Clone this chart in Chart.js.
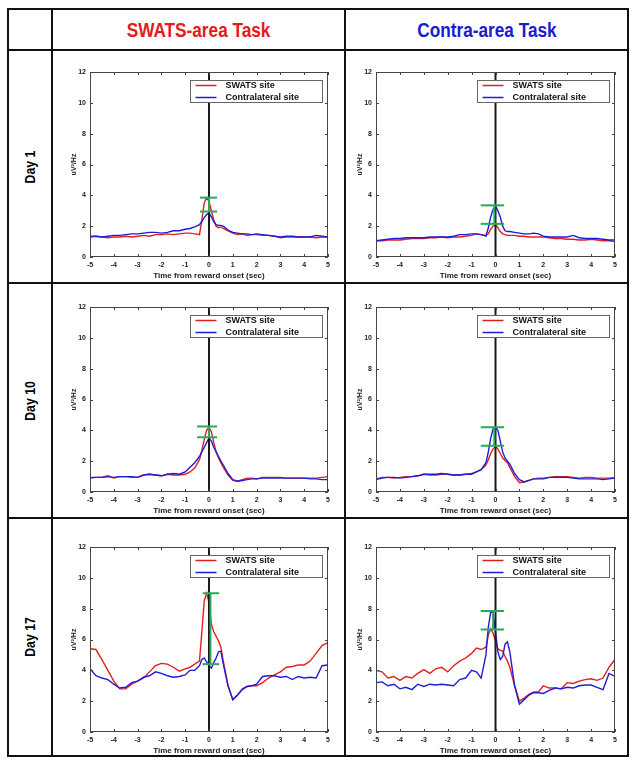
<!DOCTYPE html>
<html>
<head>
<meta charset="utf-8">
<script src="https://cdn.jsdelivr.net/npm/chart.js@4.4.1/dist/chart.umd.min.js"></script>
<style>
body{margin:0;background:#fff;}
#wrap{position:relative;width:638px;height:768px;overflow:hidden;}
.ln{position:absolute;background:#111;}
.hd{position:absolute;text-align:center;font:bold 20px "Liberation Sans",Arial,sans-serif;}
.hd span{display:inline-block;transform:scaleX(0.86);}
.day{position:absolute;width:120px;height:20px;line-height:20px;text-align:center;font:bold 15px "Liberation Sans",Arial,sans-serif;transform:rotate(-90deg) scaleX(0.82);}
canvas{position:absolute;}
</style>
</head>
<body>
<div id="wrap"></div>
<script>
// time axis (sec from reward onset)
var times = [-5,-4.75,-4.5,-4.25,-4,-3.75,-3.5,-3.25,-3,-2.75,-2.5,-2.25,-2,-1.75,-1.5,-1.25,-1,-0.8,-0.6,-0.4,-0.3,-0.2,-0.1,0,0.1,0.2,0.3,0.4,0.5,0.6,0.8,1,1.2,1.4,1.6,1.8,2,2.25,2.5,2.75,3,3.25,3.5,3.75,4,4.25,4.5,4.75,5];

var columnTitles = ["SWATS-area Task", "Contra-area Task"];
var rowTitles = ["Day 1", "Day 10", "Day 17"];
var seriesNames = ["SWATS site", "Contralateral site"];
var xTicks = [-5,-4,-3,-2,-1,0,1,2,3,4,5];
var yTicks = [0,2,4,6,8,10,12];

// Day 1
var day1SwatsTask_swats = [1.35,1.35,1.3,1.25,1.3,1.3,1.35,1.3,1.35,1.4,1.35,1.45,1.45,1.5,1.45,1.5,1.55,1.55,1.5,1.45,2.4,3.5,3.85,3.6,3.0,2.4,2.0,1.9,1.95,1.85,1.7,1.55,1.45,1.5,1.4,1.45,1.45,1.4,1.4,1.35,1.25,1.3,1.3,1.3,1.3,1.3,1.25,1.3,1.3];
var day1SwatsTask_contra = [1.3,1.35,1.3,1.35,1.4,1.4,1.45,1.5,1.5,1.55,1.6,1.6,1.55,1.6,1.7,1.7,1.8,1.85,1.95,2.1,2.3,2.55,2.75,2.85,2.6,2.3,2.1,2.05,2.05,2.0,1.75,1.6,1.55,1.5,1.5,1.45,1.5,1.45,1.4,1.35,1.3,1.35,1.35,1.3,1.3,1.3,1.4,1.35,1.3];
var day1ContraTask_swats = [1.05,1.05,1.1,1.1,1.1,1.15,1.2,1.2,1.2,1.25,1.25,1.3,1.25,1.3,1.3,1.35,1.4,1.5,1.45,1.4,1.5,1.8,2.0,2.1,1.9,1.65,1.5,1.45,1.4,1.4,1.4,1.35,1.35,1.3,1.3,1.3,1.3,1.25,1.2,1.2,1.15,1.15,1.1,1.1,1.15,1.1,1.05,1.05,1.0];
var day1ContraTask_contra = [1.05,1.1,1.15,1.2,1.2,1.25,1.25,1.25,1.25,1.3,1.3,1.3,1.3,1.35,1.45,1.45,1.5,1.5,1.45,1.35,1.9,2.6,3.1,3.3,3.0,2.6,2.0,1.7,1.65,1.65,1.6,1.55,1.5,1.5,1.55,1.5,1.35,1.3,1.3,1.3,1.3,1.4,1.25,1.2,1.2,1.2,1.15,1.1,1.1];

// Day 10
var day10SwatsTask_swats = [0.95,0.95,0.95,1.05,0.9,1.0,1.0,0.95,0.95,1.1,1.15,1.1,1.05,1.15,1.1,1.1,1.15,1.3,1.55,2.1,2.7,3.4,4.0,4.2,3.9,3.2,2.6,2.2,1.9,1.6,1.1,0.75,0.7,0.8,0.9,0.9,0.85,0.95,0.95,0.95,0.95,0.9,0.9,0.9,0.9,0.9,0.9,0.95,1.0];
var day10SwatsTask_contra = [0.9,0.95,0.95,1.0,0.95,1.0,1.0,1.0,0.95,1.1,1.15,1.1,1.05,1.15,1.2,1.15,1.3,1.6,1.9,2.3,2.6,2.9,3.2,3.5,3.3,2.9,2.6,2.3,2.0,1.75,1.2,0.8,0.7,0.75,0.8,0.85,0.85,0.9,0.9,0.9,0.9,0.9,0.9,0.9,0.9,0.85,0.85,0.8,0.8];
var day10ContraTask_swats = [0.85,0.95,0.95,0.9,0.95,1.0,1.0,1.05,1.15,1.1,1.1,1.15,1.15,1.1,1.1,1.15,1.2,1.3,1.45,1.75,2.1,2.5,2.8,2.95,2.8,2.5,2.2,2.05,1.9,1.6,1.0,0.6,0.65,0.75,0.85,0.9,0.9,0.95,1.0,1.0,1.0,0.95,0.9,0.95,0.95,0.9,0.9,0.9,0.95];
var day10ContraTask_contra = [0.8,0.9,0.95,0.95,0.9,0.95,1.0,1.05,1.15,1.15,1.15,1.2,1.15,1.1,1.1,1.15,1.15,1.3,1.45,1.9,2.6,3.5,4.1,4.2,4.0,3.3,2.6,2.2,2.0,1.8,1.2,0.8,0.65,0.75,0.85,0.85,0.85,0.95,0.95,0.95,0.95,0.9,0.85,0.85,0.85,0.85,0.8,0.85,0.9];

// Day 17
var day17SwatsTask_swats = [5.4,5.35,4.7,4.0,3.3,2.8,2.8,3.1,3.3,3.5,3.9,4.3,4.45,4.4,4.2,3.95,4.1,4.2,4.4,4.6,6.5,8.5,9.0,8.4,7.0,6.5,6.2,5.9,5.5,4.6,3.0,2.1,2.4,2.8,2.95,3.0,3.0,3.2,3.5,3.7,3.9,4.2,4.25,4.35,4.35,4.6,5.1,5.6,5.8];
var day17SwatsTask_contra = [4.1,3.65,3.5,3.4,3.1,2.85,2.9,3.2,3.3,3.55,3.65,3.9,3.8,3.65,3.55,3.6,3.7,4.0,4.0,4.3,4.7,4.8,4.55,4.3,4.15,4.5,4.8,5.2,5.25,4.4,3.0,2.1,2.4,2.75,2.95,3.0,3.1,3.6,3.65,3.65,3.55,3.6,3.4,3.6,3.5,3.55,3.5,4.3,4.35];
var day17ContraTask_swats = [4.0,3.9,3.5,3.6,3.35,3.6,3.5,3.8,4.05,3.8,4.1,4.2,3.9,4.3,4.6,4.8,5.1,5.45,5.35,5.5,6.3,6.7,6.4,5.9,5.4,5.3,5.25,4.9,4.6,4.2,3.0,2.0,2.2,2.45,2.6,2.6,3.0,2.85,2.85,2.8,3.2,3.15,3.3,3.4,3.45,3.35,3.5,4.2,4.7];
var day17ContraTask_contra = [3.2,3.25,3.0,3.1,2.8,2.9,2.75,3.1,2.95,3.1,3.05,3.1,3.05,3.0,3.4,3.5,4.0,3.9,3.5,5.0,6.8,7.8,7.7,6.5,5.2,4.7,4.9,5.7,5.85,5.2,3.0,1.8,2.1,2.4,2.55,2.55,2.5,2.7,2.85,2.8,2.9,2.85,3.0,3.05,3.05,2.9,2.75,3.8,3.6];

// green peak-difference bars, panel order: D1 L, D1 R, D10 L, D10 R, D17 L, D17 R
var peakLow  = [2.95, 2.15, 3.55, 3.0, 4.4, 6.65];
var peakHigh = [3.85, 3.35, 4.25, 4.2, 9.0, 7.85];
var peakX    = [0, -0.05, 0, -0.05, 0.06, -0.1];
var capFrom  = [-0.38, -0.62, -0.5, -0.62, -0.27, -0.62];
var capTo    = [0.34, 0.36, 0.34, 0.36, 0.43, 0.36];

var panelSeries = [
	[day1SwatsTask_swats, day1SwatsTask_contra], [day1ContraTask_swats, day1ContraTask_contra],
	[day10SwatsTask_swats, day10SwatsTask_contra], [day10ContraTask_swats, day10ContraTask_contra],
	[day17SwatsTask_swats, day17SwatsTask_contra], [day17ContraTask_swats, day17ContraTask_contra]
];

// layout
var rowLines = [9, 50, 283, 518, 756];
var colLines = [8, 52, 345, 628];
var plotTop = [72, 307, 547];
var plotLeft = [90, 376];
var plotWidth = [238, 239];
var plotHeight = 185;
var AXW = 36, AXH = 30, PADT = 10, PADR = 10;

var FONT = '"Liberation Sans", Arial, sans-serif';
Chart.defaults.font.family = FONT;

var wrap = document.getElementById("wrap");

function addDiv(cls, css, html){
	var d = document.createElement("div");
	d.className = cls;
	d.style.cssText = css;
	if (html) d.innerHTML = html;
	wrap.appendChild(d);
	return d;
}

function drawTable(){
	var i;
	for (i = 0; i < rowLines.length; i++) {
		addDiv("ln", "left:" + (colLines[0]-1) + "px;top:" + (rowLines[i]-1) + "px;width:" + (colLines[3]-colLines[0]+2) + "px;height:2px;");
	}
	for (i = 0; i < colLines.length; i++) {
		addDiv("ln", "left:" + (colLines[i]-1) + "px;top:" + (rowLines[0]-1) + "px;width:2px;height:" + (rowLines[4]-rowLines[0]+2) + "px;");
	}
	var hColors = ["#e31b1b", "#1a1ad0"];
	for (i = 0; i < 2; i++) {
		addDiv("hd", "left:" + colLines[i+1] + "px;width:" + (colLines[i+2]-colLines[i+1]) + "px;top:" + (rowLines[0]+1) + "px;height:" + (rowLines[1]-rowLines[0]) + "px;line-height:" + (rowLines[1]-rowLines[0]) + "px;color:" + hColors[i] + ";", "<span>" + columnTitles[i] + "</span>");
	}
	for (i = 0; i < 3; i++) {
		var cy = (rowLines[i+1] + rowLines[i+2]) / 2;
		var cx = (colLines[0] + colLines[1]) / 2 + 1;
		addDiv("day", "left:" + (cx-60) + "px;top:" + (cy-10) + "px;", rowTitles[i]);
	}
}

function pts(vals){
	return times.map(function(t, i){ return {x: t, y: vals[i]}; });
}

// MATLAB style box, inward ticks and legend
var matlabAxes = {
	id: "matlabAxes",
	afterDatasetsDraw: function(chart){
		var ctx = chart.ctx, a = chart.chartArea, sx = chart.scales.x, sy = chart.scales.y;
		ctx.save();
		ctx.strokeStyle = "#444";
		ctx.lineWidth = 1;
		ctx.strokeRect(a.left + 0.5, a.top + 0.5, a.right - a.left - 1, a.bottom - a.top - 1);
		ctx.beginPath();
		sx.ticks.forEach(function(t){
			var p = Math.round(sx.getPixelForValue(t.value)) + 0.5;
			ctx.moveTo(p, a.bottom); ctx.lineTo(p, a.bottom - 3);
			ctx.moveTo(p, a.top); ctx.lineTo(p, a.top + 3);
		});
		sy.ticks.forEach(function(t){
			var p = Math.round(sy.getPixelForValue(t.value)) + 0.5;
			ctx.moveTo(a.left, p); ctx.lineTo(a.left + 3, p);
			ctx.moveTo(a.right, p); ctx.lineTo(a.right - 3, p);
		});
		ctx.stroke();
		ctx.restore();
	},
	afterDraw: function(chart){
		var ctx = chart.ctx, a = chart.chartArea;
		var items = chart.data.datasets.filter(function(d){ return d.legendPos !== undefined; });
		items.sort(function(p, q){ return p.legendPos - q.legendPos; });
		ctx.save();
		ctx.font = "bold 9px " + FONT;
		var tw = 0;
		items.forEach(function(d){ tw = Math.max(tw, ctx.measureText(d.label).width); });
		var w = Math.round(37 + tw + 21), h = 22;
		var x0 = Math.round(a.right - 6 - w) + 0.5, y0 = Math.round(a.top + 8) + 0.5;
		ctx.fillStyle = "#fff";
		ctx.fillRect(x0, y0, w, h);
		ctx.strokeStyle = "#666";
		ctx.lineWidth = 1;
		ctx.strokeRect(x0, y0, w, h);
		items.forEach(function(d, i){
			var y = y0 + 5 + i * 12;
			ctx.strokeStyle = d.borderColor;
			ctx.lineWidth = 1.5;
			ctx.beginPath();
			ctx.moveTo(x0 + 5, y); ctx.lineTo(x0 + 26, y);
			ctx.stroke();
			ctx.fillStyle = "#111";
			ctx.textBaseline = "middle";
			ctx.fillText(d.label, x0 + 35, y + 0.5);
		});
		ctx.restore();
	}
};

function paintPanel(idx){
	var r = Math.floor(idx / 2), c = idx % 2;
	var cv = document.createElement("canvas");
	var W = plotWidth[c] + AXW + PADR, H = plotHeight + PADT + AXH;
	cv.width = W; cv.height = H;
	cv.style.left = (plotLeft[c] - AXW) + "px";
	cv.style.top = (plotTop[r] - PADT) + "px";
	cv.style.width = W + "px"; cv.style.height = H + "px";
	wrap.appendChild(cv);

	var green = "rgb(40,170,90)";
	var config = {
		type: "line",
		data: {
			datasets: [
				{ label: "cap high", data: [{x: capFrom[idx], y: peakHigh[idx]}, {x: capTo[idx], y: peakHigh[idx]}], borderColor: green, borderWidth: 2, order: 0 },
				{ label: "cap low", data: [{x: capFrom[idx], y: peakLow[idx]}, {x: capTo[idx], y: peakLow[idx]}], borderColor: green, borderWidth: 2, order: 0 },
				{ label: "difference", data: [{x: peakX[idx], y: peakLow[idx]}, {x: peakX[idx], y: peakHigh[idx]}], borderColor: green, borderWidth: 2, order: 0 },
				{ label: "onset", data: [{x: 0, y: 0}, {x: 0, y: 12}], borderColor: "#1a1a1a", borderWidth: 2, order: 1 },
				{ label: seriesNames[1], legendPos: 1, data: pts(panelSeries[idx][1]), borderColor: "rgb(30,30,215)", borderWidth: 1.4, order: 2 },
				{ label: seriesNames[0], legendPos: 0, data: pts(panelSeries[idx][0]), borderColor: "rgb(228,30,30)", borderWidth: 1.4, order: 3 }
			]
		},
		options: {
			responsive: false,
			animation: false,
			devicePixelRatio: 1,
			layout: { padding: { left: 0, top: PADT, right: PADR, bottom: 0 } },
			elements: { point: { radius: 0 }, line: { tension: 0, fill: false } },
			plugins: { legend: { display: false }, tooltip: { enabled: false } },
			scales: {
				x: {
					type: "linear", min: -5, max: 5,
					afterBuildTicks: function(s){ s.ticks = xTicks.map(function(v){ return {value: v}; }); },
					afterFit: function(s){ s.height = AXH; },
					grid: { display: false, drawTicks: false },
					border: { display: false },
					ticks: { color: "#222", padding: 4, maxRotation: 0, autoSkip: false, font: { size: 7, weight: "bold" } },
					title: { display: true, text: "Time from reward onset (sec)", color: "#222", font: { size: 8, weight: "bold" }, padding: { top: 0, bottom: 6 } }
				},
				y: {
					type: "linear", min: 0, max: 12,
					afterBuildTicks: function(s){ s.ticks = yTicks.map(function(v){ return {value: v}; }); },
					afterFit: function(s){ s.width = AXW; },
					grid: { display: false, drawTicks: false },
					border: { display: false },
					ticks: { color: "#222", padding: 4, font: { size: 7, weight: "bold" } },
					title: { display: true, text: "uV²/Hz", color: "#222", font: { size: 7, weight: "bold" }, padding: { top: 16, bottom: 0 } }
				}
			}
		},
		plugins: [matlabAxes]
	};
	new Chart(cv.getContext("2d"), config);
}

drawTable();
for (var p = 0; p < 6; p++) {
	paintPanel(p);
}
</script>
</body>
</html>
